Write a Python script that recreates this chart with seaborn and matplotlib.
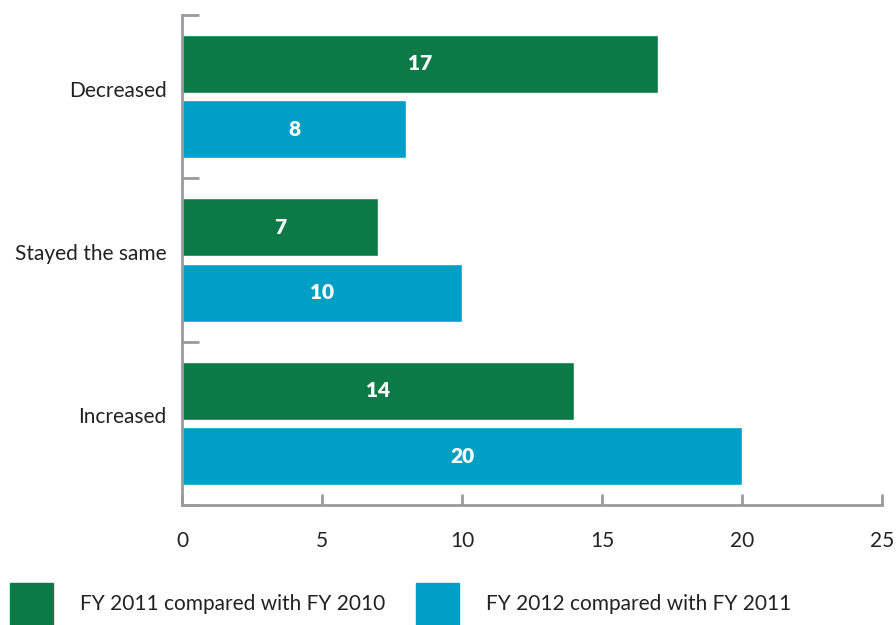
import pandas as pd
import seaborn as sns
import matplotlib.pyplot as plt
from matplotlib.transforms import ScaledTranslation

# data
categories = ["Decreased", "Stayed the same", "Increased"]
fy2011 = [17, 7, 14]
fy2012 = [8, 10, 20]
series = ["FY 2011 compared with FY 2010", "FY 2012 compared with FY 2011"]

df = pd.DataFrame({
    "Change": categories * 2,
    "Count": fy2011 + fy2012,
    "Series": [series[0]] * 3 + [series[1]] * 3,
})

sns.set_style("white")
plt.rcParams["font.family"] = ["Lato", "DejaVu Sans"]
plt.rcParams["font.size"] = 15

green = "#0b7a47"
blue = "#00a0c6"
grey = "#9a9a9e"
txt = "#222222"

fig = plt.figure(figsize=(8.96, 6.25), dpi=100)
ax = fig.add_axes([182 / 896, 1 - 505 / 625, 700 / 896, 490 / 625])

sns.barplot(data=df, y="Change", x="Count", hue="Series", order=categories,
            hue_order=series, palette=[green, blue], orient="h",
            width=0.8, gap=0.11, saturation=1, ax=ax, legend=False)

for c in ax.containers:
    ax.bar_label(c, label_type="center", color="white", fontweight="heavy", fontsize=15)

ax.set_xlim(0, 25)
ax.set_ylim(2.5, -0.5)
ax.set_xticks([0, 5, 10, 15, 20, 25])
ax.set_xlabel("")
ax.set_ylabel("")

sns.despine(ax=ax, top=True, right=True)
for s in ["left", "bottom"]:
    ax.spines[s].set_color(grey)
    ax.spines[s].set_linewidth(2)

ax.set_yticks([-0.5, 0.5, 1.5, 2.5], minor=True)
ax.tick_params(axis="y", which="major", left=True, length=0, pad=11, labelsize=15, labelcolor=txt)
ax.tick_params(axis="y", which="minor", left=True, direction="in", length=12, width=2, color=grey)
ax.tick_params(axis="x", which="major", bottom=True, direction="in", length=8, width=2, color=grey,
               pad=19, labelsize=15, labelcolor=txt)

# category labels sit a little above the band centre
for lab in ax.get_yticklabels():
    lab.set_transform(lab.get_transform() + ScaledTranslation(0, 8 / 100, fig.dpi_scale_trans))

# legend along the bottom
handles = [plt.Rectangle((0, 0), 1, 1, color=green), plt.Rectangle((0, 0), 1, 1, color=blue)]
fig.legend(handles, series, loc="lower left", bbox_to_anchor=(10 / 896, 0), ncol=2,
           frameon=False, handlelength=2.07, handleheight=2.7, handletextpad=1.3,
           columnspacing=1.45, borderpad=0, borderaxespad=0, fontsize=15, labelcolor=txt)

fig.savefig("out.png", dpi=100)
